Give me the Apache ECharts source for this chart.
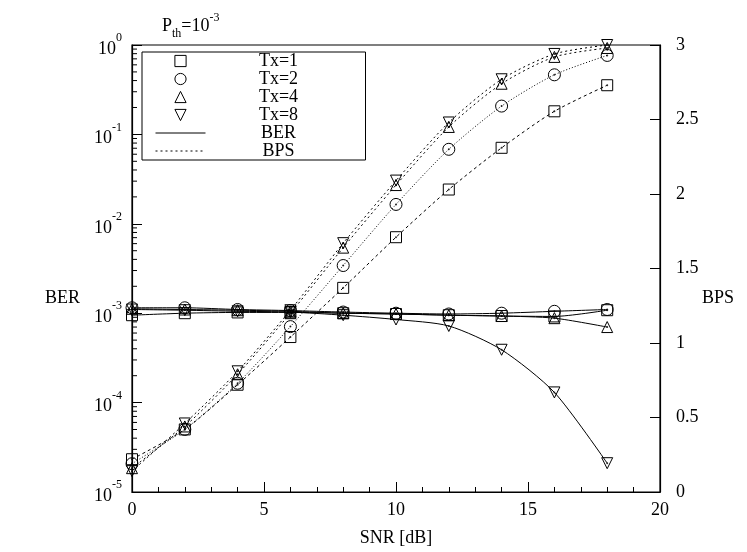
<!DOCTYPE html>
<html><head><meta charset="utf-8">
<script src="https://cdn.jsdelivr.net/npm/echarts@6/dist/echarts.min.js"></script>
<style>html,body{margin:0;padding:0;background:#fff}#c{width:747px;height:552px}</style>
</head><body><div id="c"></div>
<script>
const snr = [0, 2, 4, 6, 8, 10, 12, 14, 16, 18];
const txNames = ['Tx=1', 'Tx=2', 'Tx=4', 'Tx=8'];
const berTx1 = [0.95e-3, 1.0e-3, 1.02e-3, 1.02e-3, 1.0e-3, 0.98e-3, 0.95e-3, 0.93e-3, 0.92e-3, 1.08e-3];
const berTx2 = [1.15e-3, 1.15e-3, 1.1e-3, 1.07e-3, 1.03e-3, 1.0e-3, 0.98e-3, 1.0e-3, 1.05e-3, 1.1e-3];
const berTx4 = [1.12e-3, 1.1e-3, 1.08e-3, 1.05e-3, 1.0e-3, 0.98e-3, 0.95e-3, 0.93e-3, 0.88e-3, 0.7e-3];
const berTx8 = [1.1e-3, 1.08e-3, 1.05e-3, 1.03e-3, 0.95e-3, 0.85e-3, 0.72e-3, 0.39e-3, 0.13e-3, 0.021e-3];
const bpsTx1 = [0.22, 0.42, 0.72, 1.04, 1.37, 1.71, 2.03, 2.31, 2.555, 2.73];
const bpsTx2 = [0.19, 0.42, 0.73, 1.11, 1.52, 1.93, 2.30, 2.59, 2.80, 2.93];
const bpsTx4 = [0.16, 0.44, 0.79, 1.20, 1.64, 2.06, 2.45, 2.74, 2.92, 2.98];
const bpsTx8 = [0.14, 0.46, 0.81, 1.22, 1.67, 2.09, 2.48, 2.77, 2.94, 3.0];
const berMinorTicks = [];
for (let e = -5; e < 0; e++) for (let k = 2; k <= 9; k++) berMinorTicks.push(k * Math.pow(10, e));

const FONT = '"Liberation Serif", "DejaVu Serif", serif';
const berSets = [berTx1, berTx2, berTx4, berTx8];
const bpsSets = [bpsTx1, bpsTx2, bpsTx4, bpsTx8];
const symbols = ['rect', 'circle', 'triangle', 'triangle'];
const rotates = [0, 0, 0, 180];
const bpsDash = [[3, 3], [1, 2], [2, 3], [2, 3]];

const series = [];
function addSet(arr, i, axis, lineType) {
  const data = snr.map((x, j) => [x, arr[j]]);
  series.push({
    name: txNames[i], type: 'line', xAxisIndex: 0, yAxisIndex: axis,
    data: data,
    symbol: symbols[i], symbolRotate: rotates[i], symbolSize: i === 1 ? 12 : 11,
    smooth: 0.25, showSymbol: true,
    lineStyle: { color: '#000', width: 1, type: lineType },
    itemStyle: { color: 'transparent', borderColor: '#000', borderWidth: 1 },
    emphasis: { disabled: true }, z: 3
  });
  series.push({
    type: 'scatter', xAxisIndex: 0, yAxisIndex: axis, data: data, silent: true,
    symbol: 'circle', symbolSize: 2, itemStyle: { color: '#000' }, z: 4
  });
}
berSets.forEach((arr, i) => addSet(arr, i, 0, 'solid'));
bpsSets.forEach((arr, i) => addSet(arr, i, 1, bpsDash[i]));
series.push({ name: 'BER', type: 'line', yAxisIndex: 0, data: [], symbol: 'none', lineStyle: { color: '#000', width: 1 } });
series.push({ name: 'BPS', type: 'line', yAxisIndex: 1, data: [], symbol: 'none', lineStyle: { color: '#000', width: 1, type: [2, 3] } });
series.push({
  type: 'custom', xAxisIndex: 0, yAxisIndex: 0, silent: true, z: 5,
  data: berMinorTicks.map(v => [0, v]),
  renderItem: (params, api) => {
    const p = api.coord([0, api.value(1)]);
    return { type: 'line', shape: { x1: p[0], y1: p[1], x2: p[0] + 5, y2: p[1] }, style: { stroke: '#000', lineWidth: 1 } };
  }
});

const symItem = { color: 'transparent', borderColor: '#000', borderWidth: 1 };
const noLine = { width: 0, opacity: 0 };
const option = {
  animation: false,
  backgroundColor: '#fff',
  title: {
    text: '{b|P}{s|th}{b|=10}{p|-3}', left: 157, top: 7,
    textStyle: { fontWeight: 'normal', rich: {
      b: { fontFamily: FONT, fontSize: 18, fontWeight: 'normal', color: '#000', lineHeight: 28, verticalAlign: 'middle' },
      s: { fontFamily: FONT, fontSize: 12, fontWeight: 'normal', color: '#000', lineHeight: 28, verticalAlign: 'bottom' },
      p: { fontFamily: FONT, fontSize: 12, fontWeight: 'normal', color: '#000', lineHeight: 28, verticalAlign: 'top' }
    } }
  },
  graphic: [
    { type: 'text', left: 45, top: 289, style: { text: 'BER', font: '18px ' + FONT, fill: '#000' } },
    { type: 'text', left: 702, top: 289, style: { text: 'BPS', font: '18px ' + FONT, fill: '#000' } }
  ],
  grid: { left: 132, right: 87, top: 45, bottom: 57, show: true, borderColor: '#000', borderWidth: 1.2, backgroundColor: 'transparent' },
  legend: {
    left: 142, top: 52, orient: 'vertical', itemWidth: 50, itemHeight: 14, itemGap: 0,
    padding: [0, 19, 0, 13], borderColor: '#000', borderWidth: 1, backgroundColor: '#fff',
    selectedMode: false,
    formatter: n => '{a|' + n + '}',
    textStyle: { rich: { a: { fontFamily: FONT, fontSize: 18, color: '#000', width: 136, align: 'center', lineHeight: 19 } } },
    data: [
      { name: 'Tx=1', itemStyle: symItem, lineStyle: noLine },
      { name: 'Tx=2', itemStyle: symItem, lineStyle: noLine },
      { name: 'Tx=4', itemStyle: symItem, lineStyle: noLine },
      { name: 'Tx=8', itemStyle: symItem, lineStyle: noLine, iconRotate: 180 },
      { name: 'BER', itemStyle: { color: 'transparent', borderColor: 'transparent', borderWidth: 0 }, lineStyle: { color: '#000', width: 1, type: 'solid' } },
      { name: 'BPS', itemStyle: { color: 'transparent', borderColor: 'transparent', borderWidth: 0 }, lineStyle: { color: '#000', width: 1, type: [2, 3] } }
    ]
  },
  xAxis: {
    type: 'value', min: 0, max: 20, interval: 5,
    axisLine: { lineStyle: { color: '#000', width: 1.2 } },
    axisTick: { inside: true, length: 10, lineStyle: { color: '#000' } },
    minorTick: { show: true, splitNumber: 5, length: 5, lineStyle: { color: '#000' } },
    splitLine: { show: false },
    axisLabel: { color: '#000', fontFamily: FONT, fontSize: 18, margin: 9 },
    name: 'SNR [dB]', nameLocation: 'middle', nameGap: 37,
    nameTextStyle: { color: '#000', fontFamily: FONT, fontSize: 18 }
  },
  yAxis: [
    {
      type: 'log', logBase: 10, min: 1e-5, max: 1, position: 'left',
      axisLine: { show: true, lineStyle: { color: '#000', width: 1.2 } },
      axisTick: { show: true, inside: true, length: 10, lineStyle: { color: '#000' } },
      splitLine: { show: false },
      axisLabel: {
        margin: 10,
        formatter: v => '{b|10}{p|' + Math.round(Math.log10(v)) + '}',
        rich: {
          b: { fontFamily: FONT, fontSize: 18, color: '#000', lineHeight: 26, verticalAlign: 'bottom' },
          p: { fontFamily: FONT, fontSize: 12, color: '#000', lineHeight: 26, verticalAlign: 'top' }
        }
      }
    },
    {
      type: 'value', min: 0, max: 3, interval: 0.5, position: 'right',
      axisLine: { show: true, lineStyle: { color: '#000', width: 1.2 } },
      axisTick: { show: true, inside: true, length: 10, lineStyle: { color: '#000' } },
      splitLine: { show: false },
      axisLabel: { color: '#000', fontFamily: FONT, fontSize: 18, margin: 16 }
    }
  ],
  series: series
};
const chart = echarts.init(document.getElementById('c'), null, { renderer: 'canvas' });
chart.setOption(option);
</script>
</body></html>
